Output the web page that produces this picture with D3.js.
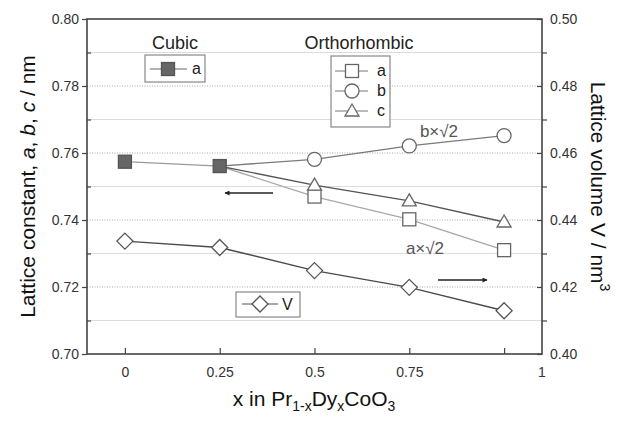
<!DOCTYPE html>
<html>
<head>
<meta charset="utf-8">
<script src="https://cdn.jsdelivr.net/npm/d3@7/dist/d3.min.js"></script>
<style>
  html, body { margin: 0; padding: 0; background: #fff; }
  svg { display: block; font-family: "Liberation Sans", Arial, sans-serif; }
</style>
</head>
<body>
<svg id="chart" width="626" height="421"></svg>
<script>
// Composition x in Pr(1-x)Dy(x)CoO3
const xTicks = [0, 0.25, 0.5, 0.75, 1];
const xTickLabels = ["0", "0.25", "0.5", "0.75", ""];
const xEndLabel = "1";

// Cubic phase lattice constant a (nm)
const cubicX = [0, 0.25];
const cubicA = [0.7574, 0.7561];

// Orthorhombic phase (a×√2, b×√2, c), lines start at the cubic x = 0.25 point
const orthoX = [0.25, 0.5, 0.75, 1];
const orthoA = [0.7561, 0.7470, 0.7402, 0.7310];
const orthoB = [0.7561, 0.7581, 0.7621, 0.7652];
const orthoC = [0.7561, 0.7504, 0.7457, 0.7394];

// Lattice volume V (nm^3), right axis
const volumeX = [0, 0.25, 0.5, 0.75, 1];
const volumeV = [0.4337, 0.4318, 0.4249, 0.4199, 0.4129];

const leftTicks = [0.70, 0.72, 0.74, 0.76, 0.78, 0.80];
const leftMinor = [0.71, 0.73, 0.75, 0.77, 0.79];
const rightTicks = [0.40, 0.42, 0.44, 0.46, 0.48, 0.50];
const rightMinor = [0.41, 0.43, 0.45, 0.47, 0.49];

const svg = d3.select("#chart");
const L = 87, R = 542, T = 19, B = 354;

const x = d3.scaleLinear().domain([-0.1, 1.1]).range([L, R]);
const yL = d3.scaleLinear().domain([0.70, 0.80]).range([B, T]);
const yR = d3.scaleLinear().domain([0.40, 0.50]).range([B, T]);

// grid lines
const grid = svg.append("g");
grid.selectAll(".minor").data(leftMinor).join("line")
  .attr("x1", L).attr("x2", R)
  .attr("y1", d => yL(d)).attr("y2", d => yL(d))
  .attr("stroke", "#dcdcdc").attr("stroke-width", 1);
grid.selectAll(".major").data(leftTicks.slice(1, -1)).join("line")
  .attr("x1", L).attr("x2", R)
  .attr("y1", d => yL(d)).attr("y2", d => yL(d))
  .attr("stroke", "#a8a8a8").attr("stroke-width", 1)
  .attr("stroke-dasharray", "1,1.5");

// axes
const tickFont = g => g.selectAll("text")
  .attr("font-size", 14).attr("fill", "#333")
  .attr("font-family", "'Liberation Sans', Arial, sans-serif");
const axisStyle = g => {
  g.select(".domain").remove();
  g.selectAll("line").attr("stroke", "#444").attr("stroke-width", 1.2);
};

svg.append("g").attr("transform", `translate(${L},0)`)
  .call(d3.axisLeft(yL).tickValues(leftTicks).tickFormat(d3.format(".2f"))
    .tickSize(5).tickPadding(3))
  .call(axisStyle).call(tickFont);
svg.append("g").attr("transform", `translate(${L},0)`)
  .call(d3.axisRight(yL).tickValues(leftMinor).tickFormat("").tickSize(4))
  .call(axisStyle);

svg.append("g").attr("transform", `translate(${R},0)`)
  .call(d3.axisRight(yR).tickValues(rightTicks).tickFormat(d3.format(".2f"))
    .tickSize(-5).tickPadding(8))
  .call(axisStyle).call(tickFont);
svg.append("g").attr("transform", `translate(${R},0)`)
  .call(d3.axisLeft(yR).tickValues(rightMinor).tickFormat("").tickSize(-5))
  .call(axisStyle);

const xAxis = svg.append("g").attr("transform", `translate(0,${B})`)
  .call(d3.axisBottom(x).tickValues(xTicks).tickFormat((d, i) => xTickLabels[i])
    .tickSize(-6).tickPadding(13))
  .call(axisStyle).call(tickFont);
xAxis.append("text")
  .attr("x", x.range()[1]).attr("y", 13).attr("dy", "0.71em")
  .attr("text-anchor", "middle").attr("font-size", 14).attr("fill", "#333")
  .text(xEndLabel);

// frame
svg.append("rect").attr("x", L).attr("y", T)
  .attr("width", R - L).attr("height", B - T)
  .attr("fill", "none").attr("stroke", "#444").attr("stroke-width", 1.6);

// lines
const lineL = (xs) => d3.line().x((d, i) => x(xs[i])).y(d => yL(d));
const lineR = (xs) => d3.line().x((d, i) => x(xs[i])).y(d => yR(d));

svg.append("path").attr("d", lineL(cubicX)(cubicA))
  .attr("fill", "none").attr("stroke", "#9a9a9a").attr("stroke-width", 1.3);
svg.append("path").attr("d", lineL(orthoX)(orthoA))
  .attr("fill", "none").attr("stroke", "#a8a8a8").attr("stroke-width", 1.3);
svg.append("path").attr("d", lineL(orthoX)(orthoB))
  .attr("fill", "none").attr("stroke", "#7a7a7a").attr("stroke-width", 1.3);
svg.append("path").attr("d", lineL(orthoX)(orthoC))
  .attr("fill", "none").attr("stroke", "#555").attr("stroke-width", 1.4);
svg.append("path").attr("d", lineR(volumeX)(volumeV))
  .attr("fill", "none").attr("stroke", "#4a4a4a").attr("stroke-width", 1.4);

// marker drawing helpers
const S = 13;
function square(g, cx, cy, filled) {
  g.append("rect").attr("x", cx - S / 2).attr("y", cy - S / 2)
    .attr("width", S).attr("height", S)
    .attr("fill", filled ? "#666" : "#fff")
    .attr("stroke", filled ? "#555" : "#666").attr("stroke-width", 1.3);
}
function circle(g, cx, cy) {
  g.append("circle").attr("cx", cx).attr("cy", cy).attr("r", 7)
    .attr("fill", "#fff").attr("stroke", "#666").attr("stroke-width", 1.3);
}
function triangle(g, cx, cy) {
  const h = 12, w = 14;
  g.append("path")
    .attr("d", `M${cx},${cy - h / 2 - 1}L${cx + w / 2},${cy + h / 2 - 1}L${cx - w / 2},${cy + h / 2 - 1}Z`)
    .attr("fill", "#fff").attr("stroke", "#666").attr("stroke-width", 1.3);
}
function diamond(g, cx, cy) {
  const r = 8;
  g.append("path")
    .attr("d", `M${cx},${cy - r}L${cx + r},${cy}L${cx},${cy + r}L${cx - r},${cy}Z`)
    .attr("fill", "#fff").attr("stroke", "#555").attr("stroke-width", 1.3);
}

const marks = svg.append("g");
orthoX.forEach((xv, i) => { if (i > 0) square(marks, x(xv), yL(orthoA[i]), false); });
orthoX.forEach((xv, i) => { if (i > 0) triangle(marks, x(xv), yL(orthoC[i])); });
orthoX.forEach((xv, i) => { if (i > 0) circle(marks, x(xv), yL(orthoB[i])); });
volumeX.forEach((xv, i) => diamond(marks, x(xv), yR(volumeV[i])));
cubicX.forEach((xv, i) => square(marks, x(xv), yL(cubicA[i]), true));

// annotations
const txt = (xp, yp, s, size, anchor) => svg.append("text")
  .attr("x", xp).attr("y", yp).attr("font-size", size)
  .attr("text-anchor", anchor || "middle").attr("fill", "#222").text(s);

txt(175, 49, "Cubic", 18);
txt(359, 49, "Orthorhombic", 18);
svg.append("text").attr("x", 439).attr("y", 137).attr("font-size", 17)
  .attr("text-anchor", "middle").attr("fill", "#555").text("b×√2");
svg.append("text").attr("x", 425).attr("y", 254).attr("font-size", 17)
  .attr("text-anchor", "middle").attr("fill", "#555").text("a×√2");

// legend boxes
const legendBox = (x0, y0, w, h) => svg.append("rect")
  .attr("x", x0).attr("y", y0).attr("width", w).attr("height", h)
  .attr("fill", "#fff").attr("stroke", "#888").attr("stroke-width", 1.2);
const legendLine = (x1, x2, yy, col) => svg.append("line")
  .attr("x1", x1).attr("x2", x2).attr("y1", yy).attr("y2", yy)
  .attr("stroke", col).attr("stroke-width", 1.2);

legendBox(145, 55, 60, 27);
legendLine(150, 187, 69, "#666");
square(svg, 168, 69, true);
txt(192, 74, "a", 16, "start");

legendBox(331, 56, 59, 71);
legendLine(335, 368, 71, "#777");
square(svg, 352, 71, false);
txt(377, 76, "a", 16, "start");
legendLine(335, 368, 91, "#777");
circle(svg, 352, 91);
txt(377, 96, "b", 16, "start");
legendLine(335, 368, 111, "#777");
triangle(svg, 352, 111);
txt(377, 116, "c", 16, "start");

legendBox(236, 292, 64, 25);
legendLine(242, 278, 304, "#555");
diamond(svg, 260, 304);
txt(282, 310, "V", 16, "start");

// axis direction arrows
const defs = svg.append("defs");
defs.append("marker").attr("id", "head").attr("viewBox", "0 0 10 10")
  .attr("refX", 9).attr("refY", 5).attr("markerWidth", 9).attr("markerHeight", 5)
  .attr("markerUnits", "userSpaceOnUse").attr("orient", "auto")
  .append("path").attr("d", "M0,0L10,5L0,10Z").attr("fill", "#222");
svg.append("line").attr("x1", 273).attr("x2", 225).attr("y1", 193).attr("y2", 193)
  .attr("stroke", "#222").attr("stroke-width", 1.4).attr("marker-end", "url(#head)");
svg.append("line").attr("x1", 438).attr("x2", 487).attr("y1", 280).attr("y2", 280)
  .attr("stroke", "#222").attr("stroke-width", 1.4).attr("marker-end", "url(#head)");

// axis titles
const leftTitle = svg.append("text")
  .attr("transform", `translate(35,${(T + B) / 2}) rotate(-90)`)
  .attr("text-anchor", "middle").attr("font-size", 21).attr("fill", "#111");
leftTitle.append("tspan").text("Lattice constant, ");
leftTitle.append("tspan").attr("font-style", "italic").text("a");
leftTitle.append("tspan").text(", ");
leftTitle.append("tspan").attr("font-style", "italic").text("b");
leftTitle.append("tspan").text(", ");
leftTitle.append("tspan").attr("font-style", "italic").text("c");
leftTitle.append("tspan").text(" / nm");

const rightTitle = svg.append("text")
  .attr("transform", `translate(591,${(T + B) / 2}) rotate(90)`)
  .attr("text-anchor", "middle").attr("font-size", 21).attr("fill", "#111");
rightTitle.append("tspan").text("Lattice volume V / nm");
rightTitle.append("tspan").attr("font-size", 14).attr("dy", -9).text("3");

const xTitle = svg.append("text")
  .attr("x", 314).attr("y", 406).attr("text-anchor", "middle")
  .attr("font-size", 21).attr("fill", "#111");
xTitle.append("tspan").text("x in Pr");
xTitle.append("tspan").attr("font-size", 14).attr("dy", 5).text("1-x");
xTitle.append("tspan").attr("dy", -5).text("Dy");
xTitle.append("tspan").attr("font-size", 14).attr("dy", 5).text("x");
xTitle.append("tspan").attr("dy", -5).text("CoO");
xTitle.append("tspan").attr("font-size", 14).attr("dy", 5).text("3");
</script>
</body>
</html>
